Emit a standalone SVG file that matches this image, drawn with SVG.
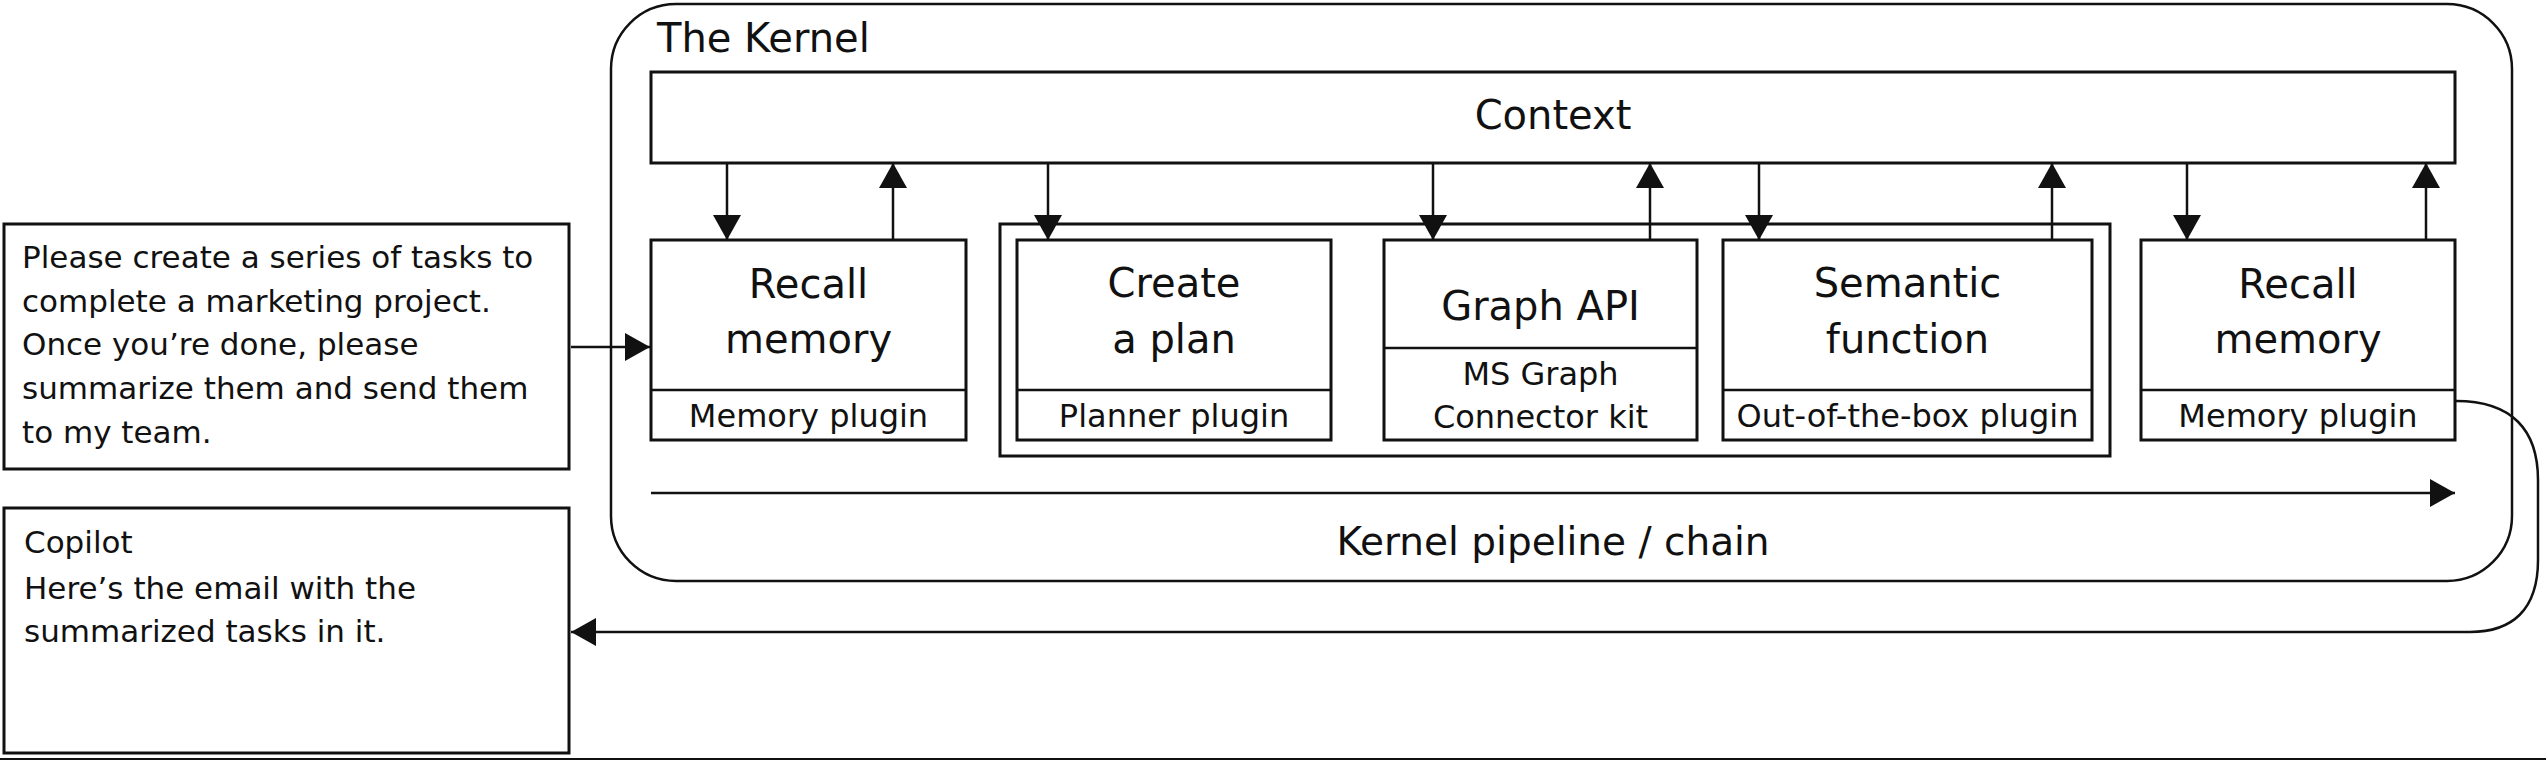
<svg xmlns="http://www.w3.org/2000/svg" width="2546" height="760" viewBox="0 0 2546 760">
<style>
.box{fill:#fff;stroke:#111;stroke-width:3}
.frame{fill:none;stroke:#111;stroke-width:2.5}
.ln{fill:none;stroke:#111;stroke-width:2.5}
text{font-family:"DejaVu Sans","Liberation Sans",sans-serif;fill:#111}
.big{font-size:40px;text-anchor:middle}
.sm{font-size:32px;text-anchor:middle}
.para{font-size:31px}
</style>
<defs>
<marker id="ah" markerUnits="userSpaceOnUse" markerWidth="26" markerHeight="28" refX="25" refY="14" orient="auto">
<path d="M0,0 L25,14 L0,28 z" fill="#111"/>
</marker>
</defs>
<rect width="2546" height="760" fill="#fff"/>
<line x1="0" y1="759" x2="2546" y2="759" stroke="#111" stroke-width="2"/>

<g id="input">
<rect class="box" x="4" y="224" width="565" height="245"/>
<text class="para" x="22" y="268">Please create a series of tasks to</text>
<text class="para" x="22" y="312">complete a marketing project.</text>
<text class="para" x="22" y="355">Once you’re done, please</text>
<text class="para" x="22" y="399">summarize them and send them</text>
<text class="para" x="22" y="443">to my team.</text>
</g>

<g id="copilot">
<rect class="box" x="4" y="508" width="565" height="245"/>
<text class="para" x="24" y="553">Copilot</text>
<text class="para" x="24" y="599">Here’s the email with the</text>
<text class="para" x="24" y="642">summarized tasks in it.</text>
</g>

<g id="kernel">
<rect class="frame" x="611" y="4" width="1901" height="577" rx="65" ry="65"/>
<text x="657" y="52" style="font-size:40px">The Kernel</text>
</g>

<g id="context">
<rect class="box" x="651" y="72" width="1804" height="91"/>
<text class="big" x="1553" y="129">Context</text>
</g>

<g id="plugin-group">
<rect class="box" x="1000" y="224" width="1110" height="232"/>
</g>

<g id="recall1">
<rect class="box" x="651" y="240" width="315" height="200"/>
<line class="ln" x1="651" y1="390" x2="966" y2="390" stroke-width="3"/>
<text class="big" x="808.5" y="298">Recall</text>
<text class="big" x="808.5" y="353">memory</text>
<text class="sm" x="808.5" y="427">Memory plugin</text>
</g>

<g id="plan">
<rect class="box" x="1017" y="240" width="314" height="200"/>
<line class="ln" x1="1017" y1="390" x2="1331" y2="390" stroke-width="3"/>
<text class="big" x="1174" y="297">Create</text>
<text class="big" x="1174" y="353">a plan</text>
<text class="sm" x="1174" y="427">Planner plugin</text>
</g>

<g id="graph">
<rect class="box" x="1384" y="240" width="313" height="200"/>
<line class="ln" x1="1384" y1="348" x2="1697" y2="348" stroke-width="3"/>
<text class="big" x="1540.5" y="320">Graph API</text>
<text class="sm" x="1540.5" y="385">MS Graph</text>
<text class="sm" x="1540.5" y="428">Connector kit</text>
</g>

<g id="semantic">
<rect class="box" x="1723" y="240" width="369" height="200"/>
<line class="ln" x1="1723" y1="390" x2="2092" y2="390" stroke-width="3"/>
<text class="big" x="1907.5" y="297">Semantic</text>
<text class="big" x="1907.5" y="353">function</text>
<text class="sm" x="1907.5" y="427">Out-of-the-box plugin</text>
</g>

<g id="recall2">
<rect class="box" x="2141" y="240" width="314" height="200"/>
<line class="ln" x1="2141" y1="390" x2="2455" y2="390" stroke-width="3"/>
<text class="big" x="2298" y="298">Recall</text>
<text class="big" x="2298" y="353">memory</text>
<text class="sm" x="2298" y="427">Memory plugin</text>
</g>

<g id="pipeline-label">
<text x="1553" y="555" style="font-size:39px;text-anchor:middle">Kernel pipeline / chain</text>
</g>

<g id="connectors">
<line class="ln" x1="571" y1="347" x2="650" y2="347" marker-end="url(#ah)"/>
<line class="ln" x1="727" y1="163" x2="727" y2="240" marker-end="url(#ah)"/>
<line class="ln" x1="893" y1="240" x2="893" y2="163" marker-end="url(#ah)"/>
<line class="ln" x1="1048" y1="163" x2="1048" y2="240" marker-end="url(#ah)"/>
<line class="ln" x1="1433" y1="163" x2="1433" y2="240" marker-end="url(#ah)"/>
<line class="ln" x1="1650" y1="240" x2="1650" y2="163" marker-end="url(#ah)"/>
<line class="ln" x1="1759" y1="163" x2="1759" y2="240" marker-end="url(#ah)"/>
<line class="ln" x1="2052" y1="240" x2="2052" y2="163" marker-end="url(#ah)"/>
<line class="ln" x1="2187" y1="163" x2="2187" y2="240" marker-end="url(#ah)"/>
<line class="ln" x1="2426" y1="240" x2="2426" y2="163" marker-end="url(#ah)"/>
<line class="ln" x1="651" y1="493" x2="2455" y2="493" stroke-width="3" marker-end="url(#ah)"/>
<path class="ln" d="M2456,401 C2512,401 2538,430 2538,480 L2538,560 C2538,610 2512,632 2470,632 L571,632" marker-end="url(#ah)"/>
</g>
</svg>
